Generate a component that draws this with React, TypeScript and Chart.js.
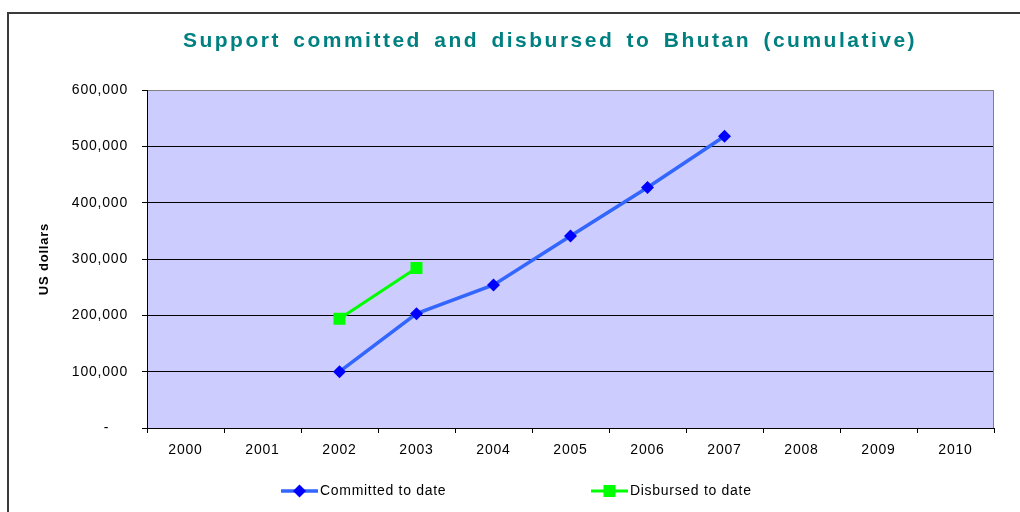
import React, { useEffect, useRef } from 'react';
import { Chart, registerables } from 'chart.js';

Chart.register(...registerables);

const years = ['2000', '2001', '2002', '2003', '2004', '2005', '2006', '2007', '2008', '2009', '2010'];
const committed = [null, null, 100000, 203000, 254000, 341000, 427000, 518000, null, null, null];
const disbursed = [null, null, 194000, 284000, null, null, null, null, null, null, null];
const yMin = 0;
const yMax = 600000;
const yStep = 100000;

const TITLE = 'Support committed and disbursed to Bhutan (cumulative)';
const Y_TITLE = 'US dollars';
const SERIES_NAMES = ['Committed to date', 'Disbursed to date'];
const FONT = '"Liberation Sans", Arial, sans-serif';

const W = 1020;
const H = 512;

const decor = {
  id: 'decor',
  beforeUpdate(chart: any) {
    chart.ctx.letterSpacing = '0.8px';
  },
  beforeDraw(chart: any) {
    const { ctx, chartArea: a } = chart;
    ctx.letterSpacing = '0.8px';
    ctx.save();
    ctx.fillStyle = '#ffffff';
    ctx.fillRect(0, 0, chart.width, chart.height);
    ctx.strokeStyle = '#3a3a3a';
    ctx.lineWidth = 2;
    ctx.beginPath();
    ctx.moveTo(8, chart.height + 5);
    ctx.lineTo(8, 13);
    ctx.lineTo(chart.width + 5, 13);
    ctx.stroke();
    ctx.fillStyle = '#CCCCFF';
    ctx.fillRect(a.left, a.top, a.right - a.left, a.bottom - a.top);
    ctx.restore();
  },
  beforeDatasetsDraw(chart: any) {
    const { ctx, chartArea: a } = chart;
    ctx.save();
    ctx.strokeStyle = '#808080';
    ctx.lineWidth = 1;
    ctx.beginPath();
    ctx.moveTo(Math.round(a.right) - 0.5, a.top);
    ctx.lineTo(Math.round(a.right) - 0.5, a.bottom);
    ctx.stroke();
    ctx.restore();
  },
  afterDraw(chart: any) {
    const { ctx } = chart;
    ctx.save();
    // title
    ctx.font = `bold 21px ${FONT}`;
    ctx.letterSpacing = '2.5px';
    ctx.wordSpacing = '4px';
    ctx.fillStyle = '#008080';
    ctx.textAlign = 'center';
    ctx.textBaseline = 'middle';
    ctx.fillText(TITLE, 550, 41);
    ctx.wordSpacing = '0px';
    // legend
    const legendX = [281, 591];
    const ly = 491;
    ctx.letterSpacing = '0.7px';
    ctx.font = `14px ${FONT}`;
    ctx.textAlign = 'left';
    chart.data.datasets.forEach((ds: any, i: number) => {
      const x = legendX[i];
      ctx.strokeStyle = ds.borderColor;
      ctx.lineWidth = ds.borderWidth;
      ctx.beginPath();
      ctx.moveTo(x, ly);
      ctx.lineTo(x + 37, ly);
      ctx.stroke();
      const cx = x + 18.5;
      ctx.fillStyle = ds.pointBackgroundColor;
      ctx.beginPath();
      if (ds.pointStyle === 'rectRot') {
        const r = ds.pointRadius;
        ctx.moveTo(cx - r, ly);
        ctx.lineTo(cx, ly - r);
        ctx.lineTo(cx + r, ly);
        ctx.lineTo(cx, ly + r);
        ctx.closePath();
      } else {
        const s = ds.pointRadius * Math.SQRT1_2;
        ctx.rect(cx - s, ly - s, 2 * s, 2 * s);
      }
      ctx.fill();
      ctx.fillStyle = '#000';
      ctx.textBaseline = 'middle';
      ctx.fillText(ds.label, x + 39, ly);
    });
    ctx.restore();
  },
};

export default function App() {
  const ref = useRef<HTMLCanvasElement>(null);
  useEffect(() => {
    const canvas = ref.current;
    if (!canvas) return;
    const chart = new Chart(canvas, {
      type: 'line',
      data: {
        labels: years,
        datasets: [
          {
            label: SERIES_NAMES[0],
            data: committed,
            borderColor: '#3366FF',
            backgroundColor: '#0000FF',
            pointBackgroundColor: '#0000FF',
            pointBorderColor: '#0000FF',
            borderWidth: 3.5,
            pointStyle: 'rectRot',
            pointRadius: 6.5,
            pointBorderWidth: 0,
            tension: 0,
          },
          {
            label: SERIES_NAMES[1],
            data: disbursed,
            borderColor: '#00FF00',
            backgroundColor: '#00FF00',
            pointBackgroundColor: '#00FF00',
            pointBorderColor: '#00FF00',
            borderWidth: 3,
            pointStyle: 'rect',
            pointRadius: 8.5,
            pointBorderWidth: 0,
            tension: 0,
          },
        ],
      },
      options: {
        responsive: false,
        animation: false,
        devicePixelRatio: 1,
        layout: { padding: { top: 90, right: 26, bottom: 0, left: 0 } },
        plugins: {
          legend: { display: false },
          title: { display: false },
          tooltip: { enabled: false },
        },
        scales: {
          x: {
            type: 'category',
            offset: true,
            grid: {
              display: true,
              offset: true,
              drawOnChartArea: false,
              drawTicks: true,
              tickLength: 5,
              color: '#000',
              tickColor: '#000',
            },
            border: { display: true, color: '#000', width: 1 },
            ticks: {
              color: '#000',
              font: { family: FONT, size: 14 },
              padding: 9,
              maxRotation: 0,
              autoSkip: false,
            },
            afterFit: (scale: any) => {
              scale.height = 84;
            },
          },
          y: {
            min: yMin,
            max: yMax,
            grid: {
              color: (c: any) => (c.tick && c.tick.value === yMax ? '#808080' : '#000'),
              tickColor: '#000',
              tickLength: 5,
              lineWidth: 1,
            },
            border: { display: true, color: '#000', width: 1 },
            ticks: {
              stepSize: yStep,
              color: '#000',
              font: { family: FONT, size: 14 },
              padding: 14,
              callback: (v: any) => (Number(v) === 0 ? '-    ' : Number(v).toLocaleString('en-US')),
            },
            title: {
              display: true,
              text: Y_TITLE,
              color: '#000',
              font: { family: FONT, size: 13, weight: 'bold' },
              padding: { top: 37, bottom: 0 },
            },
            afterFit: (scale: any) => {
              scale.width = 147;
            },
          },
        },
      },
      plugins: [decor],
    } as any);
    return () => chart.destroy();
  }, []);
  return (
    <div style={{ position: 'absolute', left: 0, top: 0, width: W, height: H }}>
      <canvas ref={ref} width={W} height={H} style={{ display: 'block', width: W, height: H }} />
    </div>
  );
}
